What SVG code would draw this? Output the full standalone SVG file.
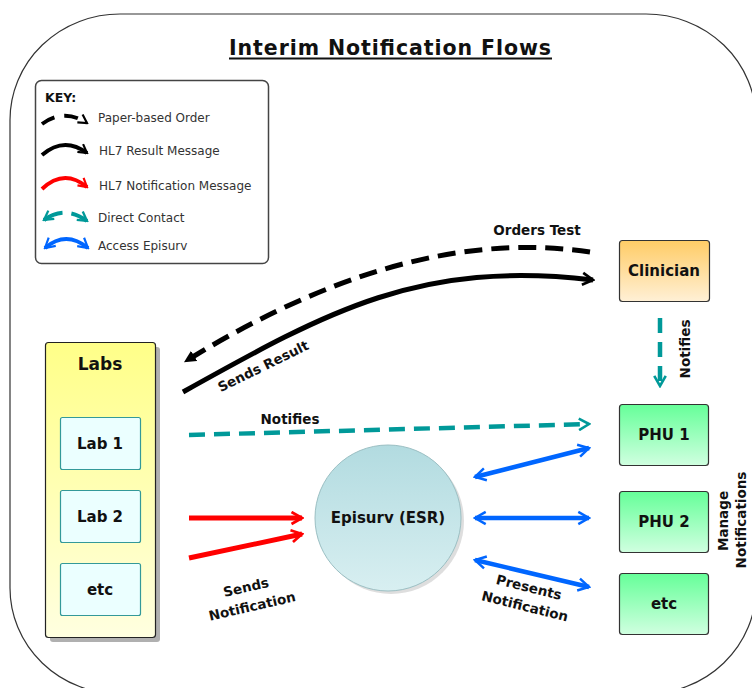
<svg xmlns="http://www.w3.org/2000/svg" width="752" height="688" viewBox="0 0 752 688">
<style>
text{font-family:"DejaVu Sans","Liberation Sans",sans-serif;fill:#111}
.b{font-weight:bold}
.node{font-weight:bold;font-size:15px;text-anchor:middle}
.lbl{font-weight:bold;font-size:13.5px;text-anchor:middle}
.key{font-size:12px;fill:#333}
.c{fill:none;stroke-linecap:butt}
.blk{stroke:#000;stroke-width:5}
.red{stroke:#ff0000;stroke-width:5}
.teal{stroke:#009999;stroke-width:4.5}
.blue{stroke:#0066ff;stroke-width:4.5}
.dash{stroke-dasharray:16 9}
</style>
<defs>
<linearGradient id="gLabs" x1="0" y1="0" x2="0" y2="1"><stop offset="0" stop-color="#ffff88"/><stop offset="1" stop-color="#ffffe0"/></linearGradient>
<linearGradient id="gClin" x1="0" y1="0" x2="0" y2="1"><stop offset="0" stop-color="#ffcc66"/><stop offset="1" stop-color="#fff0d6"/></linearGradient>
<linearGradient id="gPhu" x1="0" y1="0" x2="0" y2="1"><stop offset="0" stop-color="#66ff99"/><stop offset="1" stop-color="#d0ffe0"/></linearGradient>
<linearGradient id="gEsr" x1="0" y1="0" x2="0" y2="1"><stop offset="0" stop-color="#b2dbe0"/><stop offset="1" stop-color="#d8eff1"/></linearGradient>
<marker id="aBlk" viewBox="0 0 10 10" refX="8.5" refY="5" markerWidth="3" markerHeight="3" markerUnits="strokeWidth" orient="auto-start-reverse"><path d="M1.5,1 L8.5,5 L1.5,9" fill="none" stroke="#000" stroke-width="1.8" stroke-linejoin="miter"/></marker>
<marker id="aRed" viewBox="0 0 10 10" refX="8.5" refY="5" markerWidth="3" markerHeight="3" markerUnits="strokeWidth" orient="auto-start-reverse"><path d="M1.5,1 L8.5,5 L1.5,9" fill="none" stroke="#ff0000" stroke-width="1.8"/></marker>
<marker id="aTeal" viewBox="0 0 10 10" refX="8.5" refY="5" markerWidth="3.2" markerHeight="3.2" markerUnits="strokeWidth" orient="auto-start-reverse"><path d="M1.5,1 L8.5,5 L1.5,9" fill="none" stroke="#009999" stroke-width="1.8"/></marker>
<marker id="aBlue" viewBox="0 0 10 10" refX="8.5" refY="5" markerWidth="3.4" markerHeight="3.4" markerUnits="strokeWidth" orient="auto-start-reverse"><path d="M1.5,1 L8.5,5 L1.5,9" fill="none" stroke="#0066ff" stroke-width="1.6"/></marker>
<marker id="aTri" viewBox="0 0 10 10" refX="8" refY="5" markerWidth="2.4" markerHeight="2.4" markerUnits="strokeWidth" orient="auto"><path d="M0,0 L10,5 L0,10 Z" fill="#000"/></marker>
</defs>

<rect id="frame" x="10" y="14" width="746" height="680" rx="110" ry="106" fill="#fff" stroke="#333" stroke-width="1.2"/>

<g id="title">
<text x="390" y="55" class="b" font-size="20.5" text-anchor="middle" textLength="322">Interim Notification Flows</text>
<rect x="229" y="57.5" width="323" height="2" fill="#111"/>
</g>

<g id="key">
<rect x="35.5" y="80.5" width="233" height="183" rx="6" fill="#fff" stroke="#444" stroke-width="1.5"/>
<text x="45" y="102" class="b" font-size="12.5">KEY:</text>
<path class="c blk dash" style="stroke-width:4;stroke-dasharray:14 10" d="M42,124 Q64,108 87,123" marker-end="url(#aBlk)"/>
<text x="98" y="122" class="key">Paper-based Order</text>
<path class="c blk" style="stroke-width:4" d="M42,155 Q64,136 87,153" marker-end="url(#aBlk)"/>
<text x="99" y="155" class="key">HL7 Result Message</text>
<path class="c red" style="stroke-width:4" d="M42,189 Q64,168 87,187" marker-end="url(#aRed)"/>
<text x="99" y="190" class="key">HL7 Notification Message</text>
<path class="c teal" style="stroke-width:4;stroke-dasharray:20 9" d="M44,220 Q65,205 87,221" marker-start="url(#aTeal)" marker-end="url(#aTeal)"/>
<text x="98" y="222" class="key">Direct Contact</text>
<path class="c blue" style="stroke-width:4" d="M45,248 Q66,230 88,248" marker-start="url(#aBlue)" marker-end="url(#aBlue)"/>
<text x="98" y="250" class="key">Access Episurv</text>
</g>

<g id="connectors">
<path id="ordersTest" class="c blk" style="stroke-dasharray:18 9" d="M590,252 C480,236 350,260 186,361" marker-end="url(#aTri)"/>
<path id="sendsResult" class="c blk" d="M183,392 C330,310 420,260 593,280" marker-end="url(#aBlk)"/>
<path id="labNotifies" class="c teal dash" d="M189,435 L589,424" marker-end="url(#aTeal)"/>
<path id="clinNotifies" class="c teal" style="stroke-dasharray:15 9" d="M660,318 L660,386" marker-end="url(#aTeal)"/>
<path id="red1" class="c red" d="M189,518 L302,518" marker-end="url(#aRed)"/>
<path id="red2" class="c red" d="M189,558 L302,534" marker-end="url(#aRed)"/>
<path id="blue1" class="c blue" d="M475,477 L589,448" marker-start="url(#aBlue)" marker-end="url(#aBlue)"/>
<path id="blue2" class="c blue" d="M475,518 L589,518" marker-start="url(#aBlue)" marker-end="url(#aBlue)"/>
<path id="blue3" class="c blue" d="M475,560 L589,587" marker-start="url(#aBlue)" marker-end="url(#aBlue)"/>
<text x="537" y="235" class="lbl">Orders Test</text>
<text transform="translate(263,366) rotate(-26)" y="5" class="lbl">Sends Result</text>
<text x="290" y="424" class="lbl">Notifies</text>
<text transform="translate(690,349) rotate(-90)" class="lbl">Notifies</text>
<text transform="translate(246,587) rotate(-13)" y="5" class="lbl">Sends</text>
<text transform="translate(252,606) rotate(-13)" y="5" class="lbl">Notification</text>
<text transform="translate(529,587) rotate(14)" y="5" class="lbl">Presents</text>
<text transform="translate(525,606) rotate(14)" y="5" class="lbl">Notification</text>
<text transform="translate(728,521) rotate(-90)" class="lbl">Manage</text>
<text transform="translate(746,520) rotate(-90)" class="lbl">Notifications</text>
</g>

<g id="labs">
<rect x="50" y="347" width="110" height="295" rx="3" fill="#b0b0b0"/>
<rect x="45.5" y="342.5" width="110" height="295" rx="3" fill="url(#gLabs)" stroke="#222" stroke-width="1.2"/>
<text x="100" y="370" class="b" font-size="17" text-anchor="middle">Labs</text>
</g>
<g id="lab1">
<rect x="60.5" y="417.5" width="80" height="52" rx="2" fill="#ebffff" stroke="#339999" stroke-width="1.2"/>
<text x="100" y="449" class="node">Lab 1</text>
</g>
<g id="lab2">
<rect x="60.5" y="490.5" width="80" height="52" rx="2" fill="#ebffff" stroke="#339999" stroke-width="1.2"/>
<text x="100" y="522" class="node">Lab 2</text>
</g>
<g id="labEtc">
<rect x="60.5" y="563.5" width="80" height="52" rx="2" fill="#ebffff" stroke="#339999" stroke-width="1.2"/>
<text x="100" y="595" class="node">etc</text>
</g>

<g id="episurv">
<circle cx="391" cy="521" r="73" fill="#c8c8c8" opacity="0.6"/>
<circle cx="388" cy="518" r="73" fill="url(#gEsr)" stroke="#9bbfc3" stroke-width="1"/>
<text x="388" y="523" class="node">Episurv (ESR)</text>
</g>

<g id="clinician">
<rect x="619.5" y="240.5" width="90" height="61" rx="3" fill="url(#gClin)" stroke="#333" stroke-width="1.2"/>
<text x="664" y="276" class="node">Clinician</text>
</g>
<g id="phu1">
<rect x="619.5" y="404.5" width="89" height="61" rx="3" fill="url(#gPhu)" stroke="#333" stroke-width="1.2"/>
<text x="664" y="440" class="node">PHU 1</text>
</g>
<g id="phu2">
<rect x="619.5" y="491.5" width="89" height="61" rx="3" fill="url(#gPhu)" stroke="#333" stroke-width="1.2"/>
<text x="664" y="527" class="node">PHU 2</text>
</g>
<g id="phuEtc">
<rect x="619.5" y="573.5" width="89" height="61" rx="3" fill="url(#gPhu)" stroke="#333" stroke-width="1.2"/>
<text x="664" y="609" class="node">etc</text>
</g>
</svg>
